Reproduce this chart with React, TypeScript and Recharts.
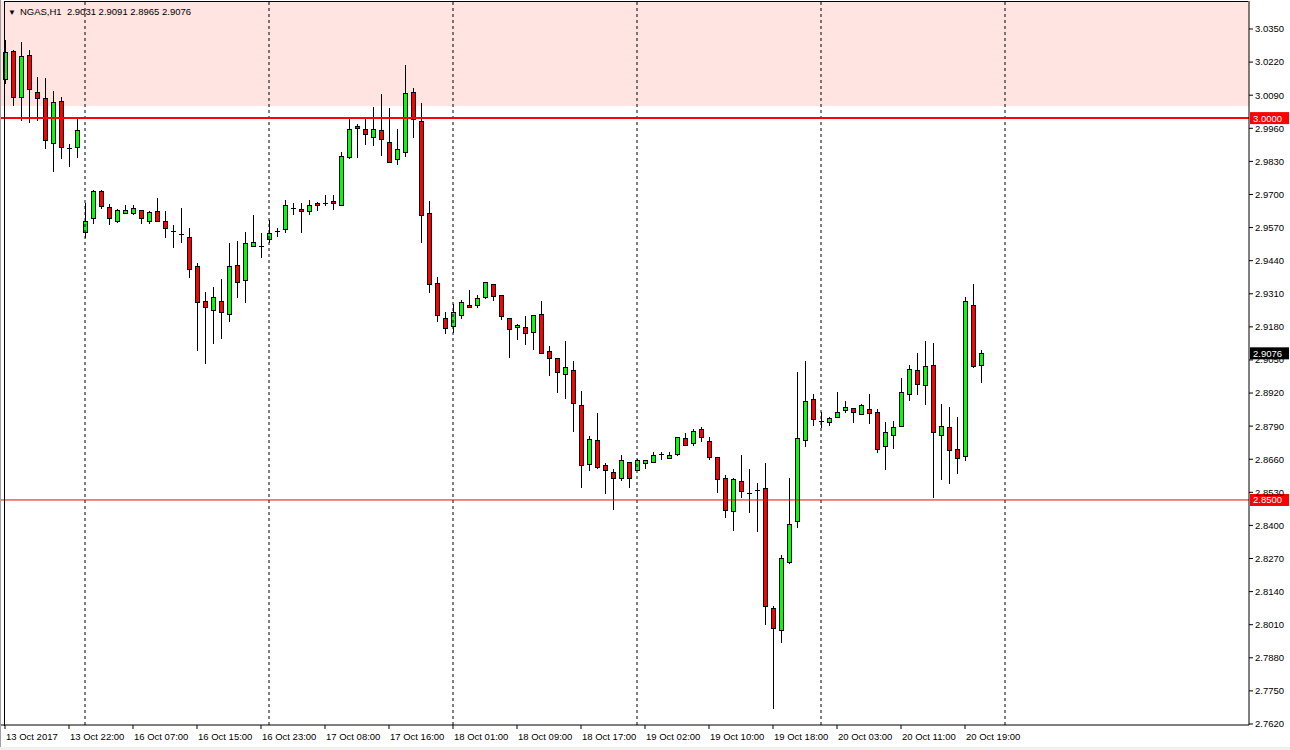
import React from 'react';
import { ComposedChart, Bar, XAxis, YAxis, ReferenceLine, ReferenceArea } from 'recharts';

// NGAS H1, 13 Oct 14:00 -> 20 Oct 21:00
const opens = [
  3.0152, 3.0262, 3.0082, 3.0248, 3.0101, 3.0078, 2.9901, 3.0067, 2.9884, 2.9885,
  2.9551, 2.9606, 2.9712, 2.9650, 2.9595, 2.9626, 2.9626, 2.9638, 2.9595, 2.9634,
  2.9595, 2.9557, 2.9544, 2.9534, 2.9420, 2.9283, 2.9245, 2.9283, 2.9229, 2.9422,
  2.9363, 2.9496, 2.9496, 2.9526, 2.9557, 2.9566, 2.9646, 2.9642, 2.9636, 2.9667,
  2.9665, 2.9674, 2.9657, 2.9848, 2.9968, 2.9956, 2.9925, 2.9952, 2.9905, 2.9838,
  2.9866, 3.0101, 2.9987, 2.9626, 2.9351, 2.9213, 2.9185, 2.9225, 2.9265, 2.9265,
  2.9296, 2.9347, 2.9304, 2.9214, 2.9178, 2.9178, 2.9159, 2.9229, 2.9084, 2.9057,
  2.8994, 2.9009, 2.8872, 2.8640, 2.8734, 2.8636, 2.8609, 2.8588, 2.8648, 2.8617,
  2.8644, 2.8648, 2.8679, 2.8664, 2.8679, 2.8742, 2.8723, 2.8778, 2.8731, 2.8668,
  2.8585, 2.8456, 2.8573, 2.8529, 2.8538, 2.8546, 2.8075, 2.7988, 2.8258, 2.8416,
  2.8734, 2.8896, 2.8809, 2.8805, 2.8825, 2.8852, 2.8860, 2.8837, 2.8856, 2.8844,
  2.8711, 2.8754, 2.8789, 2.8915, 2.9009, 2.8950, 2.9029, 2.8754, 2.8786, 2.8699,
  2.8672, 2.9265, 2.9031,
];
const highs = [
  3.0307, 3.0268, 3.0298, 3.0268, 3.0160, 3.0156, 3.0106, 3.0082, 2.9898, 2.9995,
  2.9668, 2.9718, 2.9716, 2.9663, 2.9641, 2.9659, 2.9659, 2.9638, 2.9634, 2.9685,
  2.9634, 2.9580, 2.9646, 2.9567, 2.9430, 2.9316, 2.9338, 2.9368, 2.9508, 2.9517,
  2.9551, 2.9619, 2.9548, 2.9600, 2.9567, 2.9678, 2.9665, 2.9665, 2.9678, 2.9672,
  2.9698, 2.9698, 2.9867, 2.9996, 2.9977, 2.9996, 3.0044, 3.0095, 3.0039, 2.9956,
  3.0209, 3.0117, 3.0058, 2.9673, 2.9375, 2.9237, 2.9269, 2.9286, 2.9325, 2.9305,
  2.9355, 2.9347, 2.9304, 2.9214, 2.9191, 2.9221, 2.9225, 2.9282, 2.9104, 2.9057,
  2.9125, 2.9046, 2.8927, 2.8750, 2.8840, 2.8644, 2.8620, 2.8676, 2.8648, 2.8660,
  2.8657, 2.8687, 2.8687, 2.8688, 2.8746, 2.8763, 2.8779, 2.8786, 2.8746, 2.8668,
  2.8597, 2.8585, 2.8676, 2.8620, 2.8566, 2.8644, 2.8085, 2.8283, 2.8585, 2.9002,
  2.9045, 2.8915, 2.8844, 2.8825, 2.8923, 2.8888, 2.8860, 2.8876, 2.8915, 2.8856,
  2.8805, 2.8809, 2.8979, 2.9030, 2.9077, 2.9125, 2.9117, 2.8876, 2.8866, 2.8827,
  2.9296, 2.9347, 2.9091,
];
const lows = [
  3.0138, 3.0052, 2.9993, 2.9986, 2.9993, 2.9881, 2.9793, 2.9842, 2.9813, 2.9846,
  2.9533, 2.9589, 2.9648, 2.9583, 2.9592, 2.9626, 2.9622, 2.9587, 2.9589, 2.9595,
  2.9534, 2.9495, 2.9515, 2.9377, 2.9089, 2.9037, 2.9115, 2.9135, 2.9204, 2.9296,
  2.9277, 2.9496, 2.9456, 2.9515, 2.9537, 2.9553, 2.9623, 2.9554, 2.9623, 2.9639,
  2.9657, 2.9644, 2.9657, 2.9844, 2.9848, 2.9897, 2.9896, 2.9854, 2.9826, 2.9819,
  2.9852, 2.9925, 2.9515, 2.9316, 2.9204, 2.9155, 2.9161, 2.9214, 2.9257, 2.9257,
  2.9292, 2.9284, 2.9212, 2.9063, 2.9134, 2.9114, 2.9094, 2.9076, 2.8992, 2.8925,
  2.8902, 2.8772, 2.8552, 2.8617, 2.8624, 2.8526, 2.8463, 2.8580, 2.8552, 2.8617,
  2.8624, 2.8648, 2.8660, 2.8664, 2.8676, 2.8715, 2.8715, 2.8731, 2.8660, 2.8533,
  2.8434, 2.8383, 2.8513, 2.8454, 2.8379, 2.8014, 2.7684, 2.7943, 2.8254, 2.8395,
  2.8713, 2.8796, 2.8786, 2.8796, 2.8825, 2.8844, 2.8805, 2.8837, 2.8804, 2.8690,
  2.8623, 2.8703, 2.8789, 2.8892, 2.8915, 2.8876, 2.8511, 2.8581, 2.8566, 2.8605,
  2.8656, 2.9021, 2.8965,
];
const closes = [
  3.0259, 3.0082, 3.0243, 3.0113, 3.0078, 2.9914, 3.0062, 2.9885, 2.9884, 2.9953,
  2.9595, 2.9712, 2.9656, 2.9606, 2.9638, 2.9638, 2.9646, 2.9606, 2.9630, 2.9595,
  2.9567, 2.9557, 2.9544, 2.9407, 2.9277, 2.9257, 2.9296, 2.9237, 2.9418, 2.9355,
  2.9508, 2.9512, 2.9496, 2.9548, 2.9557, 2.9658, 2.9646, 2.9636, 2.9658, 2.9658,
  2.9665, 2.9665, 2.9850, 2.9956, 2.9960, 2.9936, 2.9956, 2.9917, 2.9826, 2.9877,
  3.0097, 2.9995, 2.9618, 2.9347, 2.9225, 2.9174, 2.9237, 2.9277, 2.9257, 2.9292,
  2.9355, 2.9300, 2.9221, 2.9173, 2.9186, 2.9155, 2.9225, 2.9076, 2.9059, 2.9002,
  2.9021, 2.8880, 2.8637, 2.8738, 2.8628, 2.8617, 2.8585, 2.8656, 2.8585, 2.8656,
  2.8656, 2.8676, 2.8679, 2.8676, 2.8746, 2.8715, 2.8770, 2.8746, 2.8668, 2.8581,
  2.8460, 2.8581, 2.8534, 2.8529, 2.8538, 2.8085, 2.7996, 2.8271, 2.8405, 2.8742,
  2.8888, 2.8817, 2.8809, 2.8821, 2.8844, 2.8864, 2.8844, 2.8872, 2.8840, 2.8699,
  2.8766, 2.8786, 2.8923, 2.9013, 2.8954, 2.9025, 2.8766, 2.8789, 2.8695, 2.8664,
  2.9280, 2.9025, 2.9076,
];

const timeTicks = [0, 8, 16, 24, 32, 40, 48, 56, 64, 72, 80, 88, 96, 104, 112, 120];
const timeLabels = [
  '13 Oct 2017', '13 Oct 22:00', '16 Oct 07:00', '16 Oct 15:00', '16 Oct 23:00', '17 Oct 08:00',
  '17 Oct 16:00', '18 Oct 01:00', '18 Oct 09:00', '18 Oct 17:00', '19 Oct 02:00', '19 Oct 10:00',
  '19 Oct 18:00', '20 Oct 03:00', '20 Oct 11:00', '20 Oct 19:00',
];
const daySeparators = [10, 33, 56, 79, 102, 125];
const priceTicks = [
  2.762, 2.775, 2.788, 2.801, 2.814, 2.827, 2.84, 2.853, 2.866, 2.879, 2.892,
  2.905, 2.918, 2.931, 2.944, 2.957, 2.97, 2.983, 2.996, 3.009, 3.022, 3.035,
];
const resistanceZone = [3.0048, 3.046];
const levels = [3.0, 2.85];
const lastPrice = 2.9076;

const SLOTS = 156;
const FONT = '"Liberation Sans", Arial, sans-serif';

const data = Array.from({ length: SLOTS }, (_, i) =>
  i < opens.length
    ? { idx: i, o: opens[i], h: highs[i], l: lows[i], c: closes[i], range: [lows[i], highs[i]] }
    : { idx: i }
);

function Candle(props: any) {
  const { x, y, width, height, payload } = props;
  if (!payload || payload.o == null) return null;
  const { o, h, l, c } = payload;
  const ppu = h - l > 0 ? height / (h - l) : 0;
  const cx = x + width / 2;
  const left = Math.round(cx - 2.5) + 0.5;
  const wx = left + 2;
  const bt = Math.round(y + (h - Math.max(o, c)) * ppu) + 0.5;
  const bb = Math.round(y + (h - Math.min(o, c)) * ppu) + 0.5;
  return (
    <g>
      <line x1={wx} x2={wx} y1={Math.round(y)} y2={Math.round(y + height) + 1} stroke="#000" strokeWidth={1} />
      {bb - bt < 1 ? (
        <line x1={left - 0.5} x2={left + 4.5} y1={bt} y2={bt} stroke="#000" strokeWidth={1} />
      ) : (
        <rect x={left} y={bt} width={4} height={bb - bt} fill={c >= o ? '#00ff00' : '#ff0000'} stroke="#000" strokeWidth={1} />
      )}
    </g>
  );
}

function TimeTick(props: any) {
  const { x, y, payload } = props;
  const k = timeTicks.indexOf(payload.value);
  if (k < 0) return null;
  return (
    <text x={x + 1} y={y + 9} fontSize={9.5} fontFamily={FONT} fill="#000">
      {timeLabels[k]}
    </text>
  );
}

const priceTag = (text: string, bg: string) => (props: any) => {
  const vb = props.viewBox || {};
  const xr = (vb.x || 0) + (vb.width || 0);
  const yy = vb.y || 0;
  return (
    <g>
      <rect x={xr + 1} y={yy - 6} width={39} height={12} fill={bg} />
      <text x={xr + 4} y={yy + 3.5} fontSize={9.5} fontFamily={FONT} fill="#fff">
        {text}
      </text>
    </g>
  );
};

export default function App() {
  return (
    <div style={{ position: 'absolute', left: 0, top: 0, width: 1290, height: 750, background: '#fff' }}>
      <ComposedChart
        width={1290}
        height={750}
        data={data}
        margin={{ top: 1, right: 0, bottom: 0, left: 1 }}
        barCategoryGap={0}
      >
        <XAxis
          dataKey="idx"
          type="category"
          ticks={timeTicks}
          interval={0}
          height={25}
          axisLine={{ stroke: '#000' }}
          tickLine={{ stroke: '#000' }}
          tickSize={4}
          tick={<TimeTick />}
        />
        <YAxis
          orientation="right"
          type="number"
          domain={[2.7616, 3.046]}
          allowDataOverflow
          ticks={priceTicks}
          interval={0}
          width={41}
          axisLine={{ stroke: '#000' }}
          tickLine={{ stroke: '#000' }}
          tickSize={4}
          tickMargin={2}
          tickFormatter={(v: number) => v.toFixed(4)}
          tick={{ fill: '#000', fontSize: 9.5, fontFamily: FONT }}
        />
        <ReferenceArea y1={resistanceZone[0]} y2={resistanceZone[1]} fill="#ffe4e1" fillOpacity={1} stroke="none" />
        {daySeparators.map((d) => (
          <ReferenceLine key={d} x={d} stroke="#000" strokeDasharray="3 3" strokeWidth={1} />
        ))}
        <ReferenceLine y={levels[0]} stroke="#ff0000" strokeWidth={2} label={priceTag('3.0000', '#ff0000')} />
        <ReferenceLine y={levels[1]} stroke="#ff0000" strokeWidth={1} label={priceTag('2.8500', '#ff0000')} />
        <Bar dataKey="range" shape={Candle} isAnimationActive={false} barSize={5} />
        <ReferenceLine y={lastPrice} stroke="none" label={priceTag('2.9076', '#000')} />
      </ComposedChart>
      <div style={{ position: 'absolute', left: 0, top: 0, width: 1, height: 750, background: '#a0a0a0' }} />
      <div style={{ position: 'absolute', left: 4, top: 2, width: 1, height: 724, background: '#000' }} />
      <div style={{ position: 'absolute', left: 4, top: 1, width: 1244, height: 1, background: '#000' }} />
      <div style={{ position: 'absolute', left: 0, top: 747, width: 1290, height: 3, background: '#f0f0f0' }} />
      <div
        style={{
          position: 'absolute',
          left: 8,
          top: 6,
          fontFamily: FONT,
          fontSize: 9.5,
          color: '#000',
          whiteSpace: 'pre',
        }}
      >
        <span style={{ fontSize: 8, marginRight: 4 }}>▼</span>
        {'NGAS,H1  2.9031 2.9091 2.8965 2.9076'}
      </div>
    </div>
  );
}
